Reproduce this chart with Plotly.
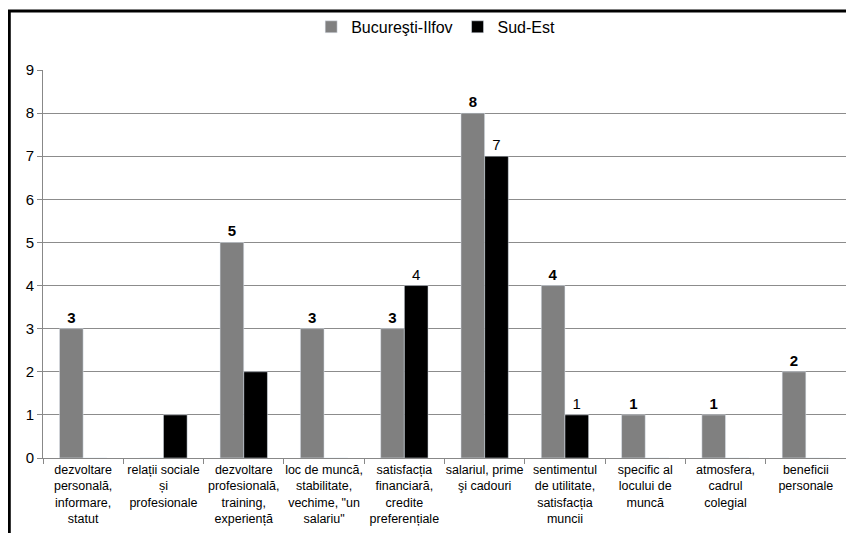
import plotly.graph_objects as go

categorii = [
    "dezvoltare<br>personală,<br>informare,<br>statut",
    "relații sociale<br>și<br>profesionale",
    "dezvoltare<br>profesională,<br>training,<br>experiență",
    "loc de muncă,<br>stabilitate,<br>vechime, \"un<br>salariu\"",
    "satisfacția<br>financiară,<br>credite<br>preferențiale",
    "salariul, prime<br>şi cadouri",
    "sentimentul<br>de utilitate,<br>satisfacția<br>muncii",
    "specific al<br>locului de<br>muncă",
    "atmosfera,<br>cadrul<br>colegial",
    "beneficii<br>personale",
]
bucuresti = [3, 0, 5, 3, 3, 8, 4, 1, 1, 2]
sud_est = [0, 1, 2, 0, 4, 7, 1, 0, 0, 0]
# etichete afisate pe grafic (unele lipsesc in original)
et_bucuresti = ["3", "", "5", "3", "3", "8", "4", "1", "1", "2"]
et_sud_est = ["", "", "", "", "4", "7", "1", "", "", ""]

fnt = "Liberation Sans, Arial, sans-serif"
x = list(range(len(categorii)))

fig = go.Figure()
fig.add_trace(go.Bar(x=x, y=bucuresti, name="Bucureşti-Ilfov", marker_color="#808080",
                     text=["<b>%s</b>" % t if t else "" for t in et_bucuresti],
                     textposition="outside", cliponaxis=False,
                     outsidetextfont=dict(size=15, color="#000000", family=fnt)))
fig.add_trace(go.Bar(x=x, y=sud_est, name="Sud-Est", marker_color="black",
                     text=et_sud_est, textposition="outside", cliponaxis=False,
                     outsidetextfont=dict(size=15, color="#000000", family=fnt)))

# pagina are o margine de 8px: figura incepe la (8, 8) si nu trebuie sa produca scroll
fig.update_layout(
    width=838, height=525,
    margin=dict(l=35, r=0, t=62, b=75, autoexpand=False),
    paper_bgcolor="white", plot_bgcolor="white",
    font=dict(family=fnt, color="black"),
    barmode="group", bargap=0.41, bargroupgap=0,
    legend=dict(orientation="h", x=0.489, xanchor="center", y=0.964, yanchor="middle",
                yref="container", bgcolor="rgba(0,0,0,0)",
                font=dict(size=16), tracegroupgap=0),
    showlegend=True,
)
fig.update_xaxes(type="category", tickmode="array", tickvals=x, ticktext=categorii,
                 tickangle=0, tickfont=dict(size=12.5), ticks="outside", tickson="boundaries",
                 ticklen=5, tickcolor="#888888", showline=True, linecolor="#888888",
                 showgrid=False, range=[-0.5, 9.5], automargin=False)
fig.update_yaxes(range=[0, 9], dtick=1, tickfont=dict(size=15), ticks="outside",
                 ticklen=5, tickcolor="#888888", showline=True, linecolor="#888888",
                 showgrid=True, gridcolor="#8c8c8c", gridwidth=1, zeroline=False,
                 automargin=False)

# cadrul negru al graficului (doar stanga si sus sunt vizibile)
fig.add_shape(type="rect", xref="paper", yref="paper", x0=-0.042, x1=1.2, y0=-0.5, y1=1.152,
              line=dict(color="black", width=3), fillcolor="rgba(0,0,0,0)", layer="above")

fig.write_html("out.html")
